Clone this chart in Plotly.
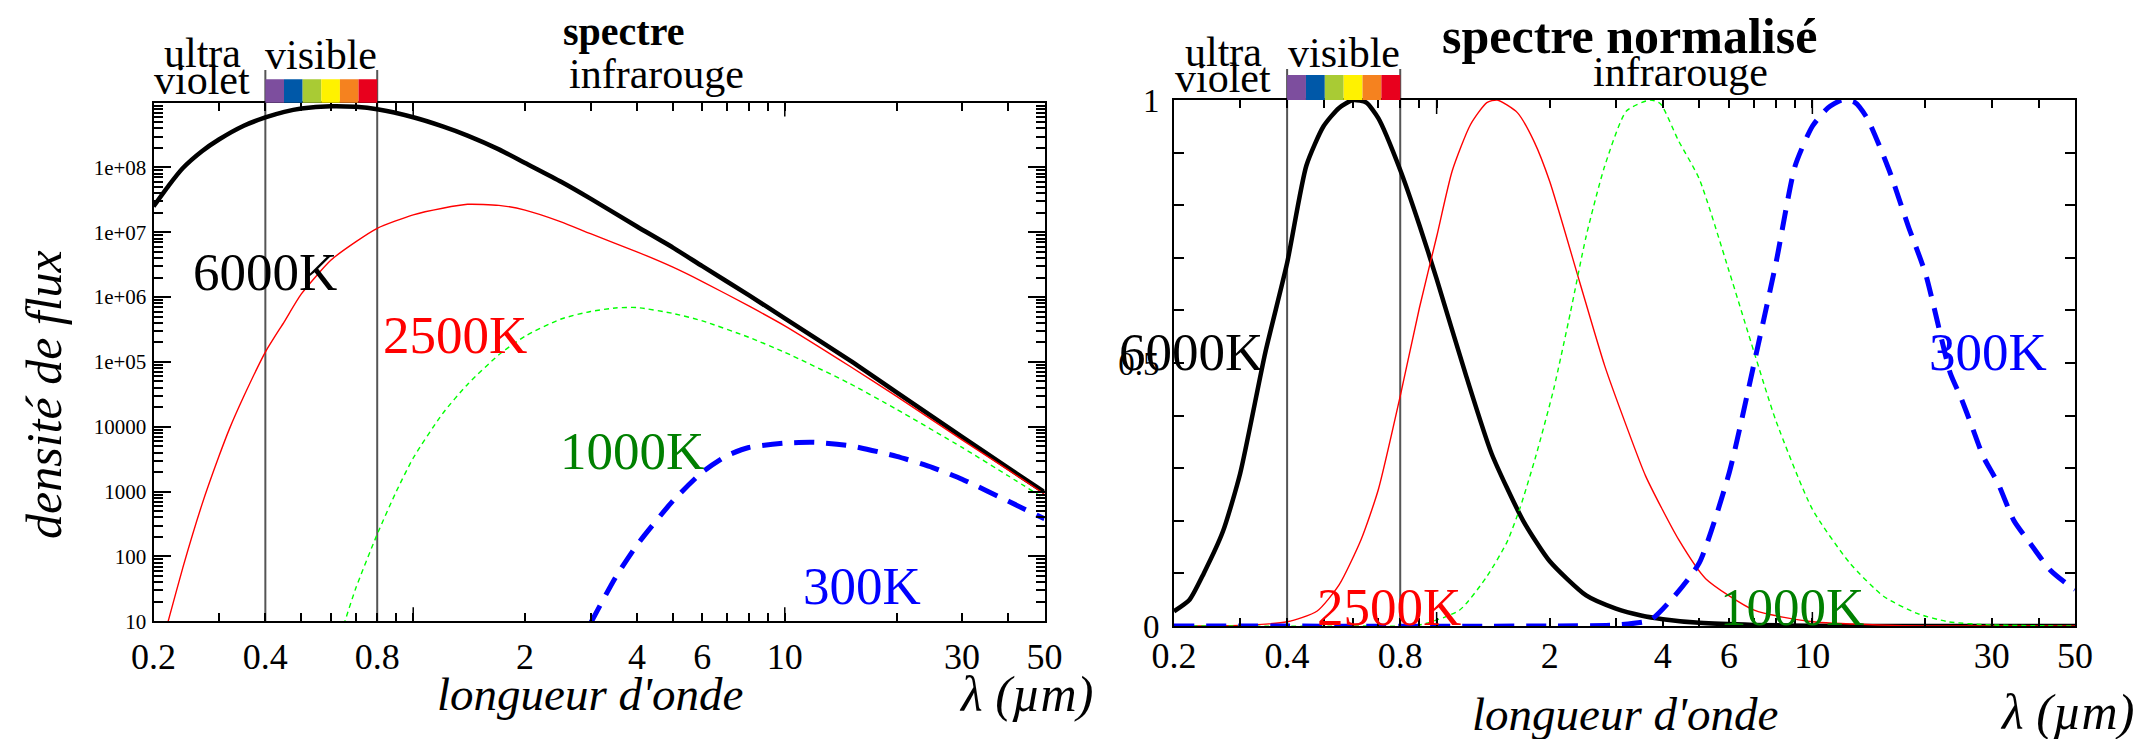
import numpy as np
import plotly.graph_objects as go

W, H = 2154, 739
OFF = 8  # the page body adds an 8px margin; compensate so positions match the target

# ---------------- data: left panel (flux density, log scale) ----------------
lam_6000 = [0.2, 0.22, 0.24, 0.27, 0.3, 0.35, 0.4, 0.45, 0.5, 0.6, 0.7, 0.8, 1.0, 1.2, 1.4, 1.7,
            2.0, 2.5, 3.0, 4.0, 5.0, 6.0, 8.0, 10, 15, 20, 30, 40, 50]
flux_6000 = [2.5e7, 5.3e7, 9.8e7, 1.78e8, 2.7e8, 4.4e8, 5.9e8, 7.2e8, 8.1e8, 8.8e8, 8.6e8, 7.9e8,
             5.95e8, 4.3e8, 3.1e8, 1.9e8, 1.17e8, 6.0e7, 3.3e7, 1.23e7, 5.8e6, 3.0e6, 1.07e6,
             4.7e5, 1.05e5, 3.4e4, 7.0e3, 2.3e3, 980]

lam_2500 = [0.2, 0.22, 0.24, 0.27, 0.3, 0.32, 0.35, 0.4, 0.45, 0.5, 0.6, 0.7, 0.8, 1.0, 1.2, 1.4,
            1.7, 2.0, 2.5, 3.0, 4.0, 5.0, 6.0, 8.0, 10, 15, 20, 30, 40, 50]
flux_2500 = [1.5, 11, 68, 630, 3.5e3, 9.2e3, 2.95e4, 1.42e5, 4.2e5, 1.12e6, 3.7e6, 7.1e6, 1.15e7,
             1.86e7, 2.35e7, 2.7e7, 2.6e7, 2.2e7, 1.45e7, 9.5e6, 5.0e6, 2.9e6, 1.74e6, 7.3e5,
             3.6e5, 8.5e4, 2.95e4, 6.3e3, 2.14e3, 920]

lam_1000 = [0.6, 0.65, 0.7, 0.8, 0.9, 1.0, 1.2, 1.4, 1.7, 2.0, 2.5, 3.0, 3.5, 4.0, 5.0, 6.0,
            8.0, 10, 15, 20, 30, 40, 50]
flux_1000 = [1.9, 8.7, 32, 220, 1.0e3, 3.3e3, 1.6e4, 4.5e4, 1.29e5, 2.5e5, 4.6e5, 6.0e5,
             6.8e5, 6.9e5, 5.6e5, 4.3e5, 2.4e5, 1.41e5, 4.6e4, 1.86e4, 4.8e3, 1.74e3, 780]

lam_300 = [3.0, 3.5, 4.0, 5.0, 6.0, 7.0, 8.0, 10, 12, 15, 20, 25, 30, 40, 50]
flux_300 = [9.3, 47, 150, 720, 2.0e3, 3.6e3, 4.8e3, 5.6e3, 5.75e3, 5.1e3, 3.5e3, 2.35e3,
            1.55e3, 710, 380]

# ---------------- data: right panel (normalised spectra) ----------------
nlam_6000 = [0.2, 0.22, 0.24, 0.27, 0.3, 0.35, 0.4, 0.45, 0.5, 0.55, 0.6, 0.65, 0.7, 0.8, 0.9,
             1.0, 1.2, 1.4, 1.7, 2.0, 2.5, 3.0, 3.5, 4.0, 5.0, 7.0, 10, 20, 50]
norm_6000 = [0.028, 0.05, 0.10, 0.18, 0.29, 0.52, 0.69, 0.875, 0.95, 0.985, 1.0, 0.995, 0.965,
             0.867, 0.762, 0.66, 0.474, 0.328, 0.20, 0.123, 0.058, 0.033, 0.02, 0.013, 0.006,
             0.002, 0.0005, 0.0, 0.0]

nlam_2500 = [0.2, 0.3, 0.4, 0.48, 0.55, 0.63, 0.7, 0.8, 0.9, 1.0, 1.1, 1.23, 1.36, 1.45, 1.64,
             1.82, 2.0, 2.4, 2.8, 3.2, 3.6, 4.4, 5.2, 7.0, 10, 15, 20, 50]
norm_2500 = [0.0, 0.001, 0.008, 0.028, 0.078, 0.165, 0.26, 0.437, 0.605, 0.74, 0.865, 0.953,
             0.995, 1.0, 0.976, 0.92, 0.845, 0.655, 0.495, 0.38, 0.285, 0.165, 0.09, 0.03,
             0.008, 0.002, 0.0, 0.0]

nlam_1000 = [0.2, 0.6, 0.9, 1.15, 1.36, 1.54, 1.67, 1.84, 2.05, 2.27, 2.5, 2.8, 3.2, 3.7, 3.94,
             4.4, 5.0, 6.0, 7.0, 8.0, 10, 12.6, 15.5, 19, 23, 30, 50]
norm_1000 = [0.0, 0.0, 0.002, 0.03, 0.094, 0.16, 0.226, 0.325, 0.451, 0.596, 0.741, 0.874, 0.979,
             1.0, 0.993, 0.923, 0.85, 0.675, 0.52, 0.39, 0.222, 0.119, 0.056, 0.024, 0.008,
             0.002, 0.0]

nlam_300 = [0.2, 2.0, 3.0, 3.7, 4.26, 5.0, 6.0, 7.0, 8.0, 9.0, 10, 11, 12, 13, 14, 16, 18, 20,
            23.3, 24.8, 26.6, 28.5, 31.2, 34.4, 38, 43, 48.6, 50]
norm_300 = [0.0, 0.0, 0.002, 0.011, 0.054, 0.12, 0.29, 0.50, 0.69, 0.875, 0.95, 0.985, 1.0,
            0.995, 0.965, 0.867, 0.76, 0.67, 0.48, 0.436, 0.379, 0.322, 0.271, 0.2, 0.157,
            0.106, 0.075, 0.07]

# ---------------- axes labels / decorations ----------------
x_tick_vals = [0.2, 0.4, 0.8, 1, 2, 4, 6, 10, 30, 50]
x_tick_text = ["0.2", "0.4", "0.8", "", "2", "4", "6", "10", "30", "50"]
x_minor_vals = [0.3, 0.5, 0.6, 0.7, 0.9, 3, 5, 7, 8, 9, 20, 40]
x_long_ticks = [1, 10]
y_log_vals = [10, 100, 1000, 10000, 1e5, 1e6, 1e7, 1e8]
y_log_text = ["10", "100", "1000", "10000", "1e+05", "1e+06", "1e+07", "1e+08"]
y_norm_vals = [0.0, 0.1, 0.2, 0.3, 0.4, 0.5, 0.6, 0.7, 0.8, 0.9, 1.0]
y_norm_text = ["0", "", "", "", "", "0.5", "", "", "", "", "1"]
visible_bounds = [0.4, 0.8]
visible_colors = ["#7d4e9e", "#0058a8", "#a9cb34", "#fff200", "#f5821f", "#e8001d"]

SER = "Liberation Serif"


def px(x):
    return (x - OFF) / W


def py(y):
    return 1 - (y - OFF) / H


L_dx = [px(153.5), px(1044.5)]
L_dy = [py(621.3), py(102.6)]
R_dx = [px(1174), px(2075)]
R_dy = [py(626), py(100)]

styles = {
    "6000K": dict(color="black", width=4.5, dash="solid"),
    "2500K": dict(color="#ff0000", width=1.4, dash="solid"),
    "1000K": dict(color="#00ff00", width=1.4, dash="5px,4px"),
    "300K": dict(color="#0000ff", width=5, dash="20px,12px"),
}

fig = go.Figure()
left = [("6000K", lam_6000, flux_6000), ("2500K", lam_2500, flux_2500),
        ("1000K", lam_1000, flux_1000), ("300K", lam_300, flux_300)]
right = [("6000K", nlam_6000, norm_6000), ("2500K", nlam_2500, norm_2500),
         ("1000K", nlam_1000, norm_1000), ("300K", nlam_300, norm_300)]
for name, xs, ys in left:
    fig.add_trace(go.Scatter(x=xs, y=ys, mode="lines", line=dict(shape="spline", smoothing=0.6, **styles[name]),
                             name=name, showlegend=False, xaxis="x", yaxis="y"))
for name, xs, ys in right:
    fig.add_trace(go.Scatter(x=xs, y=ys, mode="lines", line=dict(shape="spline", smoothing=0.6, **styles[name]),
                             name=name, showlegend=False, xaxis="x2", yaxis="y2"))


def xaxis(dom, anchor, standoff):
    return dict(domain=dom, anchor=anchor, type="log", range=[np.log10(0.2), np.log10(50)],
                tickmode="array", tickvals=x_tick_vals, ticktext=x_tick_text,
                ticks="inside", ticklen=8, tickwidth=1.5, tickcolor="black",
                showline=True, linecolor="black", linewidth=2, mirror="allticks",
                showgrid=False, zeroline=False, ticklabelstandoff=standoff, automargin=False,
                tickfont=dict(family=SER, size=36, color="black"),
                minor=dict(tickmode="array", tickvals=x_minor_vals, ticks="inside", ticklen=8,
                           tickwidth=1.5, tickcolor="black", showgrid=False))


fig.update_layout(
    width=W, height=H, autosize=False, margin=dict(l=0, r=0, t=0, b=0),
    paper_bgcolor="white", plot_bgcolor="rgba(0,0,0,0)", showlegend=False,
    font=dict(family=SER, color="black"),
    xaxis=xaxis(L_dx, "y", 2),
    xaxis2=xaxis(R_dx, "y2", -3),
    yaxis=dict(domain=L_dy, anchor="x", type="log", range=[1, 9], tickmode="array",
               tickvals=y_log_vals, ticktext=y_log_text, ticks="inside", ticklen=17,
               tickwidth=1.5, tickcolor="black", showline=True, linecolor="black", linewidth=2,
               mirror="allticks", showgrid=False, zeroline=False, ticklabelstandoff=1,
               automargin=False, tickfont=dict(family=SER, size=21, color="black"),
               minor=dict(tickmode="array",
                          tickvals=[k * 10 ** d for d in range(1, 9) for k in range(2, 10)],
                          ticks="inside", ticklen=9, tickwidth=1.5, tickcolor="black", showgrid=False)),
    yaxis2=dict(domain=R_dy, anchor="x2", range=[0, 1], tickmode="array", tickvals=y_norm_vals,
                ticktext=y_norm_text, ticks="inside", ticklen=10, tickwidth=1.5, tickcolor="black",
                showline=True, linecolor="black", linewidth=2, mirror="allticks", showgrid=False,
                zeroline=False, ticklabelstandoff=6, automargin=False,
                tickfont=dict(family=SER, size=33, color="black")),
)

shapes = []
for xr, dom_y, bar_bot, bar_top, line_top in [("x", L_dy, 102.7, 79.3, 70), ("x2", R_dy, 100, 75, 69)]:
    for b in visible_bounds:
        shapes.append(dict(type="line", xref=xr, yref="paper", x0=b, x1=b, y0=dom_y[0], y1=py(line_top),
                           line=dict(color="#555555", width=2), layer="below"))
    lo, hi = np.log10(visible_bounds[0]), np.log10(visible_bounds[1])
    n = len(visible_colors)
    for k, c in enumerate(visible_colors):
        shapes.append(dict(type="rect", xref=xr, yref="paper",
                           x0=10 ** (lo + (hi - lo) * k / n), x1=10 ** (lo + (hi - lo) * (k + 1) / n),
                           y0=py(bar_bot), y1=py(bar_top), fillcolor=c, line=dict(width=0), layer="above"))
    for t in x_long_ticks:
        shapes.append(dict(type="line", xref=xr, yref="paper", x0=t, x1=t, y0=dom_y[0], y1=dom_y[0] + 14 / H,
                           line=dict(color="black", width=1.5)))
        shapes.append(dict(type="line", xref=xr, yref="paper", x0=t, x1=t, y0=dom_y[1], y1=dom_y[1] - 14 / H,
                           line=dict(color="black", width=1.5)))
fig.update_layout(shapes=shapes)


def ann(text, x, y, size, color="black", bold=False, italic=False, angle=0):
    t = text
    if bold:
        t = "<b>" + t + "</b>"
    if italic:
        t = "<i>" + t + "</i>"
    fig.add_annotation(text=t, x=px(x), y=py(y), xref="paper", yref="paper", showarrow=False,
                       xanchor="center", yanchor="middle", textangle=angle, borderpad=0,
                       font=dict(family=SER, size=size, color=color))


# left panel texts
ann("spectre", 623, 32, 40, bold=True)
ann("ultra", 202, 53, 42)
ann("violet", 202, 80, 42)
ann("visible", 321, 55, 42)
ann("infrarouge", 656, 74, 42)
ann("6000K", 265, 272, 53)
ann("2500K", 455, 335, 53, color="#ff0000")
ann("1000K", 632, 451, 53, color="#008000")
ann("300K", 862, 586, 53, color="#0000ff")
ann("longueur d'onde", 590, 694, 47, italic=True)
ann("λ (µm)", 1026, 694, 50, italic=True)
ann("densité de flux", 44, 395, 50, italic=True, angle=-90)

# right panel texts
ann("spectre normalisé", 1629, 36, 50, bold=True)
ann("ultra", 1223, 52, 42)
ann("violet", 1223, 78, 42)
ann("visible", 1344, 53, 42)
ann("infrarouge", 1680, 72, 42)
ann("6000K", 1191, 352, 53)
ann("2500K", 1389, 607, 53, color="#ff0000")
ann("1000K", 1792, 607, 53, color="#008000")
ann("300K", 1988, 352, 53, color="#0000ff")
ann("longueur d'onde", 1625, 714, 47, italic=True)
ann("λ (µm)", 2067, 712, 50, italic=True)

fig.write_html("out.html")
